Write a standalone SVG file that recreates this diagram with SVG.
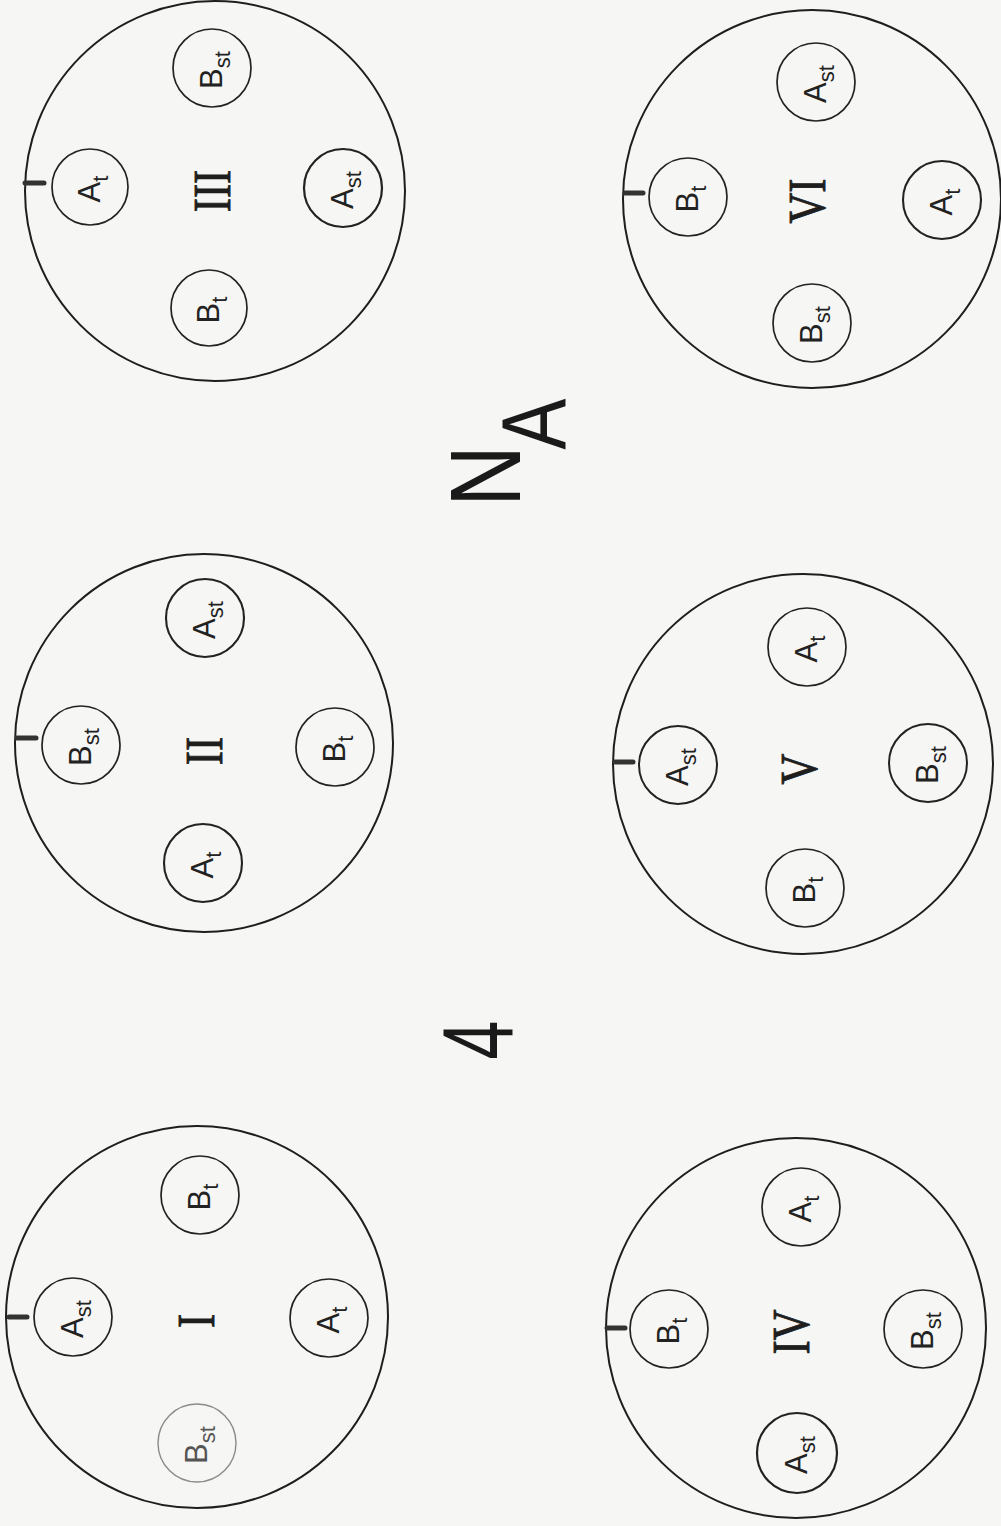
<svg xmlns="http://www.w3.org/2000/svg" width="1001" height="1526" viewBox="0 0 1001 1526">
<style>
.big{fill:none;stroke:#1e1e1e;stroke-width:2}
.sc{fill:none;stroke:#222;stroke-width:1.7}
.faint{stroke:#8a8a8a;stroke-width:1.4}
.tick{stroke:#333;stroke-width:5;stroke-linecap:round}
.lbl{font-family:"Liberation Sans",Arial,sans-serif;font-size:31px;fill:#222;text-anchor:middle}
.sub{font-size:22px}
.rn{font-family:"Liberation Serif","Times New Roman",serif;font-size:52px;fill:#1e1e1e;stroke:#1e1e1e;stroke-width:0.9;text-anchor:middle}
.hand{font-family:"Liberation Sans",Arial,sans-serif;fill:#1a1a1a}
</style>
<rect width="1001" height="1526" fill="#f6f6f4"/>
<g id="connectors"/>

<g id="plot-III">
<circle class="big" cx="215" cy="191" r="190"/>
<line class="tick" x1="25" y1="183" x2="44" y2="183"/>
<text class="rn" transform="translate(230,191) rotate(-90) scale(0.82,1)">III</text>
<g id="III-At" transform="translate(90,187)"><circle class="sc" r="38"/><text class="lbl" transform="rotate(-90)" x="-2" y="10">A<tspan class="sub" dy="8">t</tspan></text></g>
<g id="III-Bst" transform="translate(212,68)"><circle class="sc" r="39"/><text class="lbl" transform="rotate(-90)" x="-2" y="10">B<tspan class="sub" dy="8">st</tspan></text></g>
<g id="III-Ast" transform="translate(343,188)"><circle class="sc" r="39" style="stroke-width:2.2"/><text class="lbl" transform="rotate(-90)" x="-2" y="10">A<tspan class="sub" dy="8">st</tspan></text></g>
<g id="III-Bt" transform="translate(209,308)"><circle class="sc" r="38"/><text class="lbl" transform="rotate(-90)" x="-2" y="10">B<tspan class="sub" dy="8">t</tspan></text></g>
</g>

<g id="plot-II">
<circle class="big" cx="204" cy="743" r="189"/>
<line class="tick" x1="17" y1="738" x2="36" y2="738"/>
<text class="rn" transform="translate(222,751) rotate(-90) scale(0.82,1)">II</text>
<g id="II-Bst" transform="translate(81,745)"><circle class="sc" r="39"/><text class="lbl" transform="rotate(-90)" x="-2" y="10">B<tspan class="sub" dy="8">st</tspan></text></g>
<g id="II-Ast" transform="translate(205,618)"><circle class="sc" r="39" style="stroke-width:2.1"/><text class="lbl" transform="rotate(-90)" x="-2" y="10">A<tspan class="sub" dy="8">st</tspan></text></g>
<g id="II-Bt" transform="translate(335,747)"><circle class="sc" r="39"/><text class="lbl" transform="rotate(-90)" x="-2" y="10">B<tspan class="sub" dy="8">t</tspan></text></g>
<g id="II-At" transform="translate(203,863)"><circle class="sc" r="39" style="stroke-width:2.1"/><text class="lbl" transform="rotate(-90)" x="-2" y="10">A<tspan class="sub" dy="8">t</tspan></text></g>
</g>

<g id="plot-I">
<circle class="big" cx="197" cy="1317" r="191"/>
<line class="tick" x1="9" y1="1317" x2="27" y2="1317"/>
<text class="rn" transform="translate(214,1321) rotate(-90) scale(0.82,1)">I</text>
<g id="I-Ast" transform="translate(73,1317)"><circle class="sc" r="39"/><text class="lbl" transform="rotate(-90)" x="-2" y="10">A<tspan class="sub" dy="8">st</tspan></text></g>
<g id="I-Bt" transform="translate(200,1195)"><circle class="sc" r="39"/><text class="lbl" transform="rotate(-90)" x="-2" y="10">B<tspan class="sub" dy="8">t</tspan></text></g>
<g id="I-At" transform="translate(329,1318)"><circle class="sc" r="39"/><text class="lbl" transform="rotate(-90)" x="-2" y="10">A<tspan class="sub" dy="8">t</tspan></text></g>
<g id="I-Bst" transform="translate(197,1443)"><circle class="sc faint" r="39"/><text class="lbl" transform="rotate(-90)" x="-2" y="10" style="fill:#555">B<tspan class="sub" dy="8">st</tspan></text></g>
</g>

<g id="plot-VI">
<circle class="big" cx="812" cy="199" r="189"/>
<line class="tick" x1="625" y1="193" x2="643" y2="193"/>
<text class="rn" transform="translate(825,201) rotate(-90) scale(0.82,1)">VI</text>
<g id="VI-Bt" transform="translate(688,197)"><circle class="sc" r="39"/><text class="lbl" transform="rotate(-90)" x="-2" y="10">B<tspan class="sub" dy="8">t</tspan></text></g>
<g id="VI-Ast" transform="translate(816,82)"><circle class="sc" r="39"/><text class="lbl" transform="rotate(-90)" x="-2" y="10">A<tspan class="sub" dy="8">st</tspan></text></g>
<g id="VI-At" transform="translate(942,200)"><circle class="sc" r="39" style="stroke-width:2.1"/><text class="lbl" transform="rotate(-90)" x="-2" y="10">A<tspan class="sub" dy="8">t</tspan></text></g>
<g id="VI-Bst" transform="translate(812,323)"><circle class="sc" r="39"/><text class="lbl" transform="rotate(-90)" x="-2" y="10">B<tspan class="sub" dy="8">st</tspan></text></g>
</g>

<g id="plot-V">
<circle class="big" cx="803" cy="764" r="190"/>
<line class="tick" x1="615" y1="762" x2="633" y2="762"/>
<text class="rn" transform="translate(817,769) rotate(-90) scale(0.82,1)">V</text>
<g id="V-Ast" transform="translate(678,765)"><circle class="sc" r="39" style="stroke-width:2"/><text class="lbl" transform="rotate(-90)" x="-2" y="10">A<tspan class="sub" dy="8">st</tspan></text></g>
<g id="V-At" transform="translate(807,647)"><circle class="sc" r="39"/><text class="lbl" transform="rotate(-90)" x="-2" y="10">A<tspan class="sub" dy="8">t</tspan></text></g>
<g id="V-Bst" transform="translate(928,763)"><circle class="sc" r="39" style="stroke-width:2"/><text class="lbl" transform="rotate(-90)" x="-2" y="10">B<tspan class="sub" dy="8">st</tspan></text></g>
<g id="V-Bt" transform="translate(805,888)"><circle class="sc" r="39"/><text class="lbl" transform="rotate(-90)" x="-2" y="10">B<tspan class="sub" dy="8">t</tspan></text></g>
</g>

<g id="plot-IV">
<circle class="big" cx="796" cy="1328" r="190"/>
<line class="tick" x1="607" y1="1328" x2="625" y2="1328"/>
<text class="rn" transform="translate(809,1332) rotate(-90) scale(0.82,1)">IV</text>
<g id="IV-Bt" transform="translate(669,1329)"><circle class="sc" r="39"/><text class="lbl" transform="rotate(-90)" x="-2" y="10">B<tspan class="sub" dy="8">t</tspan></text></g>
<g id="IV-At" transform="translate(801,1207)"><circle class="sc" r="39"/><text class="lbl" transform="rotate(-90)" x="-2" y="10">A<tspan class="sub" dy="8">t</tspan></text></g>
<g id="IV-Bst" transform="translate(923,1329)"><circle class="sc" r="39"/><text class="lbl" transform="rotate(-90)" x="-2" y="10">B<tspan class="sub" dy="8">st</tspan></text></g>
<g id="IV-Ast" transform="translate(797,1453)"><circle class="sc" r="40" style="stroke-width:2.2"/><text class="lbl" transform="rotate(-90)" x="-2" y="10">A<tspan class="sub" dy="8">st</tspan></text></g>
</g>

<g id="label-NA">
<text class="hand" transform="translate(520,500) rotate(-90) scale(0.85,1)"><tspan x="-8" y="0" font-size="100">N</tspan><tspan x="59" y="45" font-size="90">A</tspan></text>
</g>
<g id="label-4">
<text class="hand" transform="translate(513,1040) rotate(-90) scale(0.7,1)" font-size="100" text-anchor="middle">4</text>
</g>
</svg>
